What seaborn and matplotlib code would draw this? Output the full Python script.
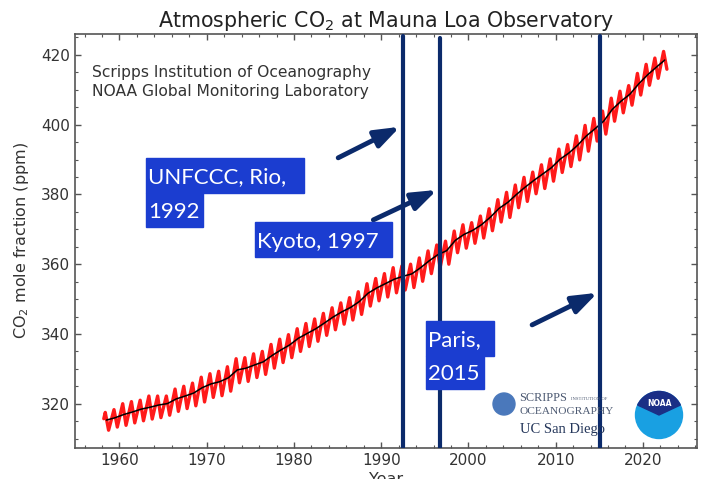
import numpy as np
import pandas as pd
import matplotlib
matplotlib.use("Agg")
import matplotlib.pyplot as plt
from matplotlib.patches import Rectangle, Circle, Wedge
import seaborn as sns

# Annual mean CO2 (ppm), black trend line
years = list(range(1958, 2023))
annual_mean = [315.3, 315.98, 316.91, 317.64, 318.45, 318.99, 319.62, 320.04, 321.37, 322.18,
               323.05, 324.62, 325.68, 326.32, 327.46, 329.68, 330.19, 331.13, 332.03, 333.84,
               335.41, 336.84, 338.76, 340.12, 341.48, 343.15, 344.87, 346.35, 347.61, 349.31,
               351.69, 353.20, 354.45, 355.70, 356.54, 357.21, 358.96, 360.97, 362.74, 363.88,
               366.84, 368.54, 369.71, 371.32, 373.45, 375.98, 377.70, 379.98, 382.09, 384.02,
               385.83, 387.64, 390.10, 391.85, 394.06, 396.74, 398.81, 401.01, 404.41, 406.76,
               408.72, 411.65, 414.21, 416.41, 418.53]

# Seasonal maximum (May) and minimum (autumn) of the monthly record, red line
may_peak = [317.5, 318.3, 320.0, 320.6, 321.0, 322.2, 322.2, 322.2, 324.2, 325.0,
            325.9, 327.6, 328.6, 329.3, 330.6, 332.9, 333.2, 334.3, 335.0, 337.0,
            338.5, 339.8, 341.5, 343.0, 344.3, 345.9, 347.5, 348.9, 350.4, 352.1,
            354.4, 355.9, 357.3, 359.0, 359.5, 360.0, 361.8, 363.8, 365.5, 366.6,
            369.5, 371.3, 371.9, 373.8, 375.9, 378.5, 380.6, 382.7, 384.9, 386.4,
            388.5, 390.2, 393.0, 394.3, 396.8, 399.8, 401.8, 403.9, 407.6, 409.6,
            411.2, 414.7, 417.3, 419.1, 421.0]
autumn_low = [312.4, 313.3, 313.8, 314.5, 315.1, 315.6, 316.0, 316.7, 317.8, 318.6,
              319.4, 320.5, 321.8, 322.3, 323.6, 326.0, 326.4, 327.5, 328.4, 330.2,
              331.8, 333.2, 335.0, 336.4, 337.9, 339.6, 341.2, 342.8, 344.0, 345.6,
              348.0, 349.5, 350.6, 351.8, 352.6, 353.3, 355.1, 357.3, 359.0, 360.0,
              363.3, 364.6, 366.0, 367.5, 369.6, 372.1, 373.4, 376.2, 378.0, 380.2,
              381.7, 383.8, 386.3, 388.0, 389.9, 392.4, 395.3, 397.3, 401.0, 403.4,
              405.6, 408.5, 411.3, 413.3, 415.9]
first_month = (1958.2, 315.7)

event_years = [1992.45, 1996.7, 2015.1]
event_labels = [["UNFCCC, Rio,", "1992"], ["Kyoto, 1997"], ["Paris,", "2015"]]

W, H = 707, 479
navy = "#0b2a6b"
box_blue = "#1b3dd0"

# red line: alternating May peaks and autumn lows
red_t = [first_month[0]]
red_v = [first_month[1]]
for y, hi, lo in zip(years, may_peak, autumn_low):
    red_t += [y + 0.37, y + 0.75]
    red_v += [hi, lo]
monthly = pd.DataFrame({"t": red_t, "co2": red_v})
trend = pd.DataFrame({"t": [y + 0.5 for y in years], "co2": annual_mean})

sns.set_style("ticks")
plt.rcParams["font.family"] = ["DejaVu Sans"]

fig = plt.figure(figsize=(W / 100, H / 100), dpi=100)
ax = fig.add_axes([75 / W, 1 - 448 / H, 622 / W, 414 / H])

sns.lineplot(data=monthly, x="t", y="co2", ax=ax, color="#ff1a1a", lw=2.4, zorder=2)
sns.lineplot(data=trend, x="t", y="co2", ax=ax, color="black", lw=1.1, zorder=3)

ax.set_xlim(1954.9, 2026.2)
ax.set_ylim(307.3, 426.0)
ax.set_xticks(range(1960, 2021, 10))
ax.set_xticks(range(1956, 2027, 2), minor=True)
ax.set_yticks(range(320, 421, 20))
ax.set_yticks(range(310, 426, 5), minor=True)
ax.tick_params(which="both", direction="in", top=True, right=True, colors="#555555",
               labelcolor="#333333", labelsize=11)
ax.tick_params(which="major", length=4, width=1)
ax.tick_params(which="minor", length=2.5, width=0.8)
for s in ax.spines.values():
    s.set_color("#555555")
    s.set_linewidth(1.2)

ax.set_title("Atmospheric CO$_2$ at Mauna Loa Observatory", fontsize=14.8, color="#222222", pad=5)
ax.set_ylabel("CO$_2$ mole fraction (ppm)", fontsize=11.5, color="#333333", labelpad=7)
ax.set_xlabel("Year", fontsize=11.5, color="#333333", labelpad=3)

ax.text(0.028, 0.925, "Scripps Institution of Oceanography\nNOAA Global Monitoring Laboratory",
        transform=ax.transAxes, fontsize=11.2, color="#333333", va="top", linespacing=1.3)

# event lines
for x, top in zip(event_years, [0.995, 0.99, 0.995]):
    ax.axvline(x, ymin=0, ymax=top, color=navy, lw=3, zorder=4)

# arrows pointing to the event lines
arrow_tails = [(1985.07, 390.5), (1989.1, 372.7), (2007.3, 342.6)]
arrow_heads_y = [399.4, 381.3, 351.8]
for x, (tx, ty), hy in zip(event_years, arrow_tails, arrow_heads_y):
    ax.annotate("", xy=(x - 0.3, hy), xytext=(tx, ty),
                arrowprops=dict(arrowstyle="-|>,head_length=0.75,head_width=0.27",
                                color=navy, lw=3.5, mutation_scale=20,
                                shrinkA=0, shrinkB=0), zorder=5)


# highlighted labels, boxes given in figure pixels (top-left origin)
def label_box(x0, y0, x1, y1, text):
    fig.add_artist(Rectangle((x0 / W, 1 - y1 / H), (x1 - x0) / W, (y1 - y0) / H,
                             transform=fig.transFigure, color=box_blue, zorder=6))
    fig.text((x0 + 2) / W, 1 - (y0 + y1) / 2 / H, text, color="white", fontsize=16,
             family=["Lato", "DejaVu Sans"], va="center_baseline", ha="left", zorder=7)


boxes = [[(146, 158, 304, 193), (146, 193, 203, 227)],
         [(255, 222, 392, 257)],
         [(426, 321, 494, 356), (426, 356, 484, 389)]]
for lines, rects in zip(event_labels, boxes):
    for txt, r in zip(lines, rects):
        label_box(*r, txt)

# logos (approximation)
px = fig.dpi_scale_trans
fig.add_artist(Circle((504 / 100, (H - 404) / 100), 0.11, transform=px,
                      color="#4a78bb", zorder=6))
fig.text(519 / W, 1 - 398 / H, "SCRIPPS", family="Liberation Serif", fontsize=8.8,
         color="#4d5a72", va="center", zorder=7)
fig.text(571 / W, 1 - 399 / H, "INSTITUTION OF", family="Liberation Serif", fontsize=3.3,
         color="#4d5a72", va="center", zorder=7)
fig.text(519 / W, 1 - 411 / H, "OCEANOGRAPHY", family="Liberation Serif", fontsize=8.2,
         color="#4d5a72", va="center", zorder=7)
fig.text(520 / W, 1 - 430 / H, "UC San Diego", family="Liberation Serif", fontsize=10.5,
         color="#24365a", va="center", zorder=7)
fig.add_artist(Circle((659 / 100, (H - 415) / 100), 0.235, transform=px,
                      color="#19a0e2", zorder=6))
fig.add_artist(Wedge((659 / 100, (H - 415) / 100), 0.235, 25, 155, transform=px,
                     color="#1b2f86", zorder=6))
fig.text(659 / W, 1 - 404 / H, "NOAA", fontsize=5.5, fontweight="bold", color="white",
         ha="center", va="center", zorder=7)

fig.savefig("out.png", dpi=100)
